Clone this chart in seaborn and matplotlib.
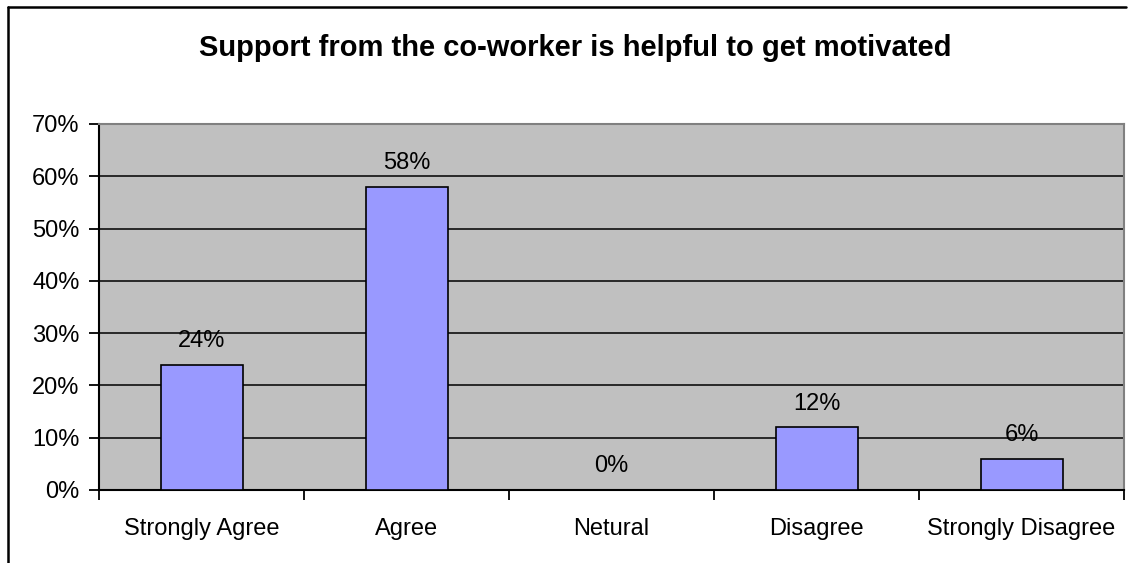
import matplotlib
matplotlib.use("Agg")
import matplotlib.pyplot as plt
import seaborn as sns
import pandas as pd
from matplotlib.lines import Line2D
from matplotlib.ticker import FuncFormatter, FixedLocator

categories = ["Strongly Agree", "Agree", "Netural", "Disagree", "Strongly Disagree"]
percent = [24, 58, 0, 12, 6]
y_ticks = [0, 10, 20, 30, 40, 50, 60, 70]
title = "Support from the co-worker is helpful to get motivated"

df = pd.DataFrame({"response": categories, "pct": percent})

sns.set_theme(style="white")
plt.rcParams["font.family"] = ["Liberation Sans", "DejaVu Sans"]

fig = plt.figure(figsize=(11.34, 5.63), dpi=100)
ax = fig.add_axes([99 / 1134, 1 - 490 / 563, (1124 - 99) / 1134, (490 - 124) / 563])
ax.set_facecolor("#C0C0C0")

sns.barplot(data=df, x="response", y="pct", order=categories, width=0.4,
            color="#9999FF", saturation=1, edgecolor="black", linewidth=1.2,
            ax=ax, zorder=3)

ax.set_xlim(-0.5, len(categories) - 0.5)
ax.set_ylim(0, 70)
ax.set_yticks(y_ticks)
ax.yaxis.set_major_formatter(FuncFormatter(lambda v, _: f"{v:.0f}%"))
ax.grid(axis="y", color="black", linewidth=1.1, zorder=1)
ax.set_axisbelow(True)

# category labels centred, tick marks at the boundaries
ax.set_xticks(range(len(categories)))
ax.set_xticklabels(categories)
ax.xaxis.set_minor_locator(FixedLocator([i - 0.5 for i in range(len(categories) + 1)]))
ax.tick_params(axis="x", which="major", length=0, pad=20, labelsize=17, colors="black")
ax.tick_params(axis="x", which="minor", length=7, width=1.3, color="black", direction="out", bottom=True)
ax.tick_params(axis="y", length=7, width=1.3, color="black", direction="out", left=True,
               pad=7, labelsize=17, labelcolor="black")
ax.set_xlabel("")
ax.set_ylabel("")

for side in ("left", "bottom"):
    ax.spines[side].set_color("black")
    ax.spines[side].set_linewidth(1.5)
for side in ("top", "right"):
    ax.spines[side].set_color("#808080")
    ax.spines[side].set_linewidth(1.5)
    ax.spines[side].set_visible(True)

for i, v in enumerate(percent):
    ax.annotate(f"{v}%", xy=(i, v), xytext=(0, 9), textcoords="offset points",
                ha="center", va="bottom", fontsize=17, color="black", zorder=5)

fig.text(0.507, 1 - 48 / 563, title, ha="center", va="center",
         fontsize=21, fontweight="bold", color="black")

# chart frame
fig.add_artist(Line2D([8 / 1134, 8 / 1134], [0, 1 - 7 / 563], color="black", linewidth=1.8))
fig.add_artist(Line2D([8 / 1134, 1126 / 1134], [1 - 7 / 563, 1 - 7 / 563], color="black", linewidth=1.8))

fig.savefig("out.png", dpi=100, facecolor="white")
